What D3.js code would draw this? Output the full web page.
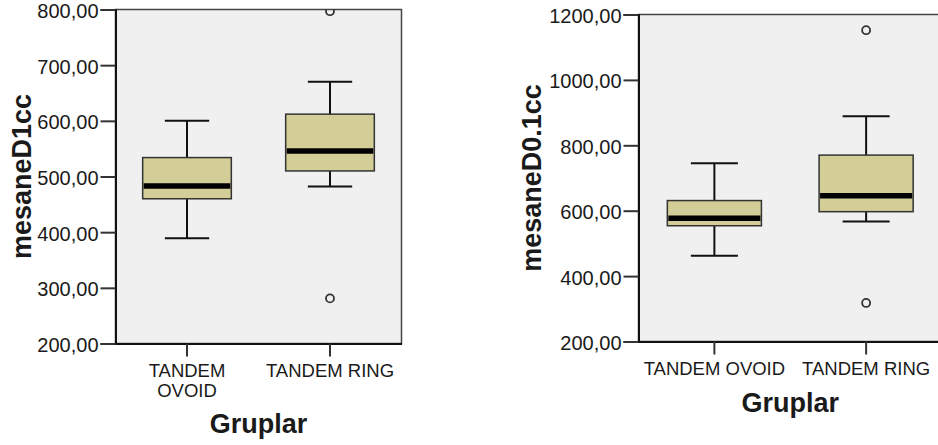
<!DOCTYPE html>
<html>
<head>
<meta charset="utf-8">
<script src="https://cdn.jsdelivr.net/npm/d3@7"></script>
<style>
  body { margin: 0; background: #fff; }
  svg { display: block; }
  text { font-family: "Liberation Sans", Arial, sans-serif; fill: #1a1a1a; }
</style>
</head>
<body>
<div id="chart"></div>
<script>
// groups on the x axis
var groups = ['TANDEM OVOID', 'TANDEM RING'];

// box stats per group: [lower whisker, Q1, median, Q3, upper whisker]
var d1ccStats = [[389, 460, 483, 534, 600], [482, 510, 546, 612, 670]];
var d1ccOutliers = [[], [797, 281]];
var d1ccTicks = [200, 300, 400, 500, 600, 700, 800];

var d01ccStats = [[462, 554, 577, 631, 745], [567, 597, 646, 770, 889]];
var d01ccOutliers = [[], [1152, 318]];
var d01ccTicks = [200, 400, 600, 800, 1000, 1200];

var locale = d3.formatLocale({decimal: ',', thousands: '', grouping: [3], currency: ['', '']});
var fmt = locale.format('.2f');

var svg = d3.select('#chart').append('svg')
    .attr('width', 938)
    .attr('height', 445);

var panels = [
    {title: 'mesaneD1cc', stats: d1ccStats, outliers: d1ccOutliers, ticks: d1ccTicks,
     x0: 115.5, x1: 401.5, y0: 9.5, y1: 343.5, wrap: true, titleX: 31, catY: 376.5, xTitleY: 433},
    {title: 'mesaneD0.1cc', stats: d01ccStats, outliers: d01ccOutliers, ticks: d01ccTicks,
     x0: 638.5, x1: 942, y0: 14.5, y1: 341.5, wrap: false, titleX: 541, catY: 375, xTitleY: 412}
];

panels.forEach(function(p, pi) {
    var g = svg.append('g');
    var y = d3.scaleLinear()
        .domain([p.ticks[0], p.ticks[p.ticks.length - 1]])
        .range([p.y1, p.y0]);
    var x = d3.scaleBand()
        .domain(groups)
        .range([p.x0, p.x1]);
    var bw = x.bandwidth();
    var boxW = bw * 0.62;
    var capW = bw * 0.31;

    // plot background + frame
    g.append('rect')
        .attr('x', p.x0).attr('y', p.y0)
        .attr('width', p.x1 - p.x0).attr('height', p.y1 - p.y0)
        .attr('fill', '#f0f0f0')
        .attr('stroke', '#444')
        .attr('stroke-width', 1.5);

    var clipId = 'clip' + pi;
    g.append('clipPath').attr('id', clipId)
        .append('rect')
        .attr('x', p.x0).attr('y', p.y0)
        .attr('width', p.x1 - p.x0).attr('height', p.y1 - p.y0);

    // y axis
    var yAxis = d3.axisLeft(y)
        .tickValues(p.ticks)
        .tickFormat(fmt)
        .tickSize(15)
        .tickPadding(2);
    var ya = g.append('g')
        .attr('transform', 'translate(' + p.x0 + ',0)')
        .call(yAxis);
    ya.select('.domain').attr('stroke', '#111').attr('stroke-width', 2);
    ya.selectAll('.tick line').attr('stroke', '#333').attr('stroke-width', 2);
    ya.selectAll('.tick text')
        .attr('font-size', 20)
        .attr('dy', '0.4em')
        .attr('fill', '#1a1a1a')
        .style('font-family', '"Liberation Sans", Arial, sans-serif');

    // x axis
    var xAxis = d3.axisBottom(x).tickSize(13).tickSizeOuter(0).tickPadding(6);
    var xa = g.append('g')
        .attr('transform', 'translate(0,' + p.y1 + ')')
        .call(xAxis);
    xa.select('.domain').attr('stroke', '#111').attr('stroke-width', 2);
    xa.selectAll('.tick line').attr('stroke', '#333').attr('stroke-width', 2);
    xa.selectAll('.tick text').remove();

    groups.forEach(function(name) {
        var t = g.append('text')
            .attr('x', x(name) + bw / 2)
            .attr('y', p.catY)
            .attr('text-anchor', 'middle')
            .attr('font-size', 18.5);
        var words = name.split(' ');
        var test = t.text(name).node().getComputedTextLength();
        if (p.wrap && test > bw - 2) {
            t.text(null);
            words.forEach(function(w, i) {
                t.append('tspan')
                    .attr('x', x(name) + bw / 2)
                    .attr('dy', i === 0 ? 0 : 20)
                    .text(w);
            });
        }
    });

    // boxes
    var plot = g.append('g').attr('clip-path', 'url(#' + clipId + ')');
    p.stats.forEach(function(s, i) {
        var cx = x(groups[i]) + bw / 2;
        // whiskers
        plot.append('line')
            .attr('x1', cx).attr('x2', cx)
            .attr('y1', y(s[0])).attr('y2', y(s[1]))
            .attr('stroke', '#111').attr('stroke-width', 2);
        plot.append('line')
            .attr('x1', cx).attr('x2', cx)
            .attr('y1', y(s[3])).attr('y2', y(s[4]))
            .attr('stroke', '#111').attr('stroke-width', 2);
        [s[0], s[4]].forEach(function(v) {
            plot.append('line')
                .attr('x1', cx - capW / 2).attr('x2', cx + capW / 2)
                .attr('y1', y(v)).attr('y2', y(v))
                .attr('stroke', '#111').attr('stroke-width', 2);
        });
        plot.append('rect')
            .attr('x', cx - boxW / 2)
            .attr('y', y(s[3]))
            .attr('width', boxW)
            .attr('height', y(s[1]) - y(s[3]))
            .attr('fill', '#d3ce97')
            .attr('stroke', '#333')
            .attr('stroke-width', 1.5);
        plot.append('line')
            .attr('x1', cx - boxW / 2 + 1).attr('x2', cx + boxW / 2 - 1)
            .attr('y1', y(s[2])).attr('y2', y(s[2]))
            .attr('stroke', '#000').attr('stroke-width', 5.5);

        p.outliers[i].forEach(function(v) {
            plot.append('circle')
                .attr('cx', cx).attr('cy', y(v))
                .attr('r', 4)
                .attr('fill', 'none')
                .attr('stroke', '#333')
                .attr('stroke-width', 1.8);
        });
    });

    // axis titles
    g.append('text')
        .attr('transform', 'translate(' + p.titleX + ',' + ((p.y0 + p.y1) / 2) + ') rotate(-90)')
        .attr('text-anchor', 'middle')
        .attr('font-size', 27)
        .attr('font-weight', 'bold')
        .attr('fill', '#111')
        .text(p.title);
    g.append('text')
        .attr('x', (p.x0 + Math.min(p.x1, 942)) / 2)
        .attr('y', p.xTitleY)
        .attr('text-anchor', 'middle')
        .attr('font-size', 27)
        .attr('font-weight', 'bold')
        .attr('fill', '#111')
        .text('Gruplar');
});
</script>
</body>
</html>
